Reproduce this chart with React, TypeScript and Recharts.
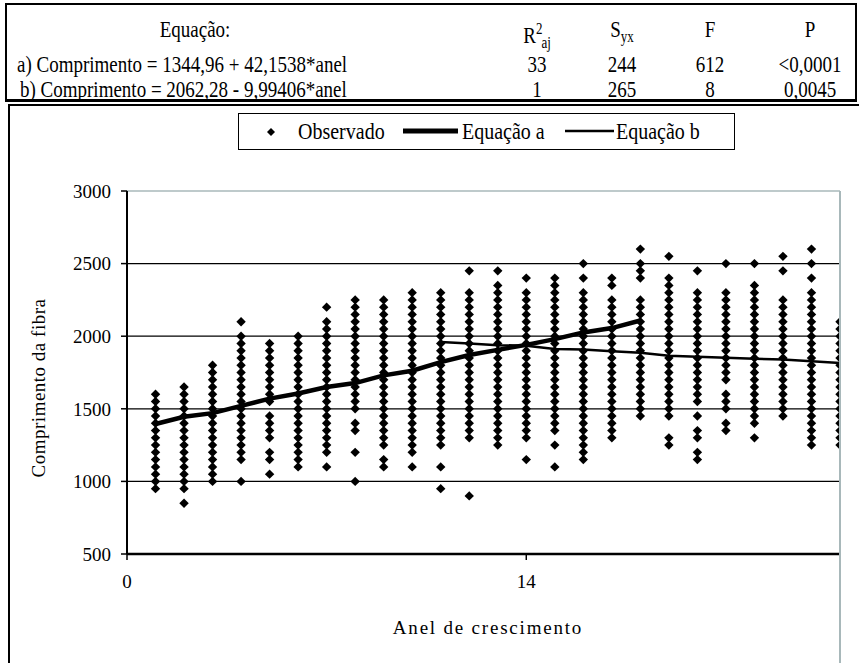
import React from "react";
import {
  ComposedChart,
  Scatter,
  Line,
  XAxis,
  YAxis,
  ReferenceLine,
} from "recharts";

const rings = [1, 2, 3, 4, 5, 6, 7, 8, 9, 10, 11, 12, 13, 14, 15, 16, 17, 18, 19, 20, 21, 22, 23, 24, 25];

// fibre length read per ring (each diamond of the stack)
const observed: number[][] = [
  [950, 1000, 1050, 1100, 1150, 1200, 1250, 1300, 1350, 1400, 1450, 1500, 1550, 1600],
  [850, 950, 1000, 1050, 1100, 1150, 1200, 1250, 1300, 1350, 1400, 1450, 1500, 1550, 1600, 1650],
  [1000, 1050, 1100, 1150, 1200, 1250, 1300, 1350, 1400, 1450, 1500, 1550, 1600, 1650, 1700, 1750, 1800],
  [1000, 1150, 1200, 1250, 1300, 1350, 1400, 1450, 1500, 1550, 1600, 1650, 1700, 1750, 1800, 1850, 1900, 1950, 2000, 2100],
  [1050, 1150, 1200, 1300, 1350, 1400, 1450, 1550, 1600, 1650, 1700, 1750, 1800, 1850, 1900, 1950],
  [1100, 1150, 1200, 1250, 1300, 1350, 1400, 1450, 1500, 1550, 1600, 1650, 1700, 1750, 1800, 1850, 1900, 1950, 2000],
  [1100, 1200, 1250, 1300, 1350, 1400, 1450, 1500, 1550, 1600, 1650, 1700, 1750, 1800, 1850, 1900, 1950, 2000, 2050, 2100, 2200],
  [1000, 1200, 1350, 1400, 1500, 1550, 1600, 1650, 1700, 1750, 1800, 1850, 1900, 1950, 2000, 2050, 2100, 2150, 2200, 2250],
  [1100, 1150, 1250, 1300, 1350, 1400, 1450, 1500, 1550, 1600, 1650, 1700, 1750, 1800, 1850, 1900, 1950, 2000, 2050, 2100, 2150, 2200, 2250],
  [1100, 1200, 1250, 1300, 1350, 1400, 1450, 1500, 1550, 1600, 1650, 1700, 1750, 1800, 1850, 1900, 1950, 2000, 2050, 2100, 2150, 2200, 2250, 2300],
  [950, 1100, 1250, 1300, 1350, 1400, 1450, 1500, 1550, 1600, 1650, 1700, 1750, 1800, 1850, 1900, 1950, 2000, 2050, 2100, 2150, 2200, 2250, 2300],
  [900, 1300, 1350, 1400, 1450, 1500, 1550, 1600, 1650, 1700, 1750, 1800, 1850, 1900, 1950, 2000, 2050, 2100, 2150, 2200, 2250, 2300, 2450],
  [1250, 1300, 1350, 1400, 1450, 1500, 1550, 1600, 1650, 1700, 1750, 1800, 1850, 1900, 1950, 2000, 2050, 2100, 2150, 2200, 2250, 2300, 2350, 2450],
  [1150, 1300, 1350, 1400, 1450, 1500, 1550, 1600, 1650, 1700, 1750, 1800, 1850, 1900, 1950, 2000, 2050, 2100, 2150, 2200, 2250, 2300, 2400],
  [1100, 1250, 1350, 1400, 1450, 1500, 1550, 1600, 1650, 1700, 1750, 1800, 1850, 1900, 1950, 2000, 2050, 2100, 2150, 2200, 2250, 2300, 2350, 2400],
  [1150, 1200, 1250, 1300, 1350, 1400, 1450, 1500, 1550, 1600, 1650, 1700, 1750, 1800, 1850, 1900, 1950, 2000, 2050, 2100, 2150, 2200, 2250, 2300, 2400, 2500],
  [1300, 1350, 1400, 1450, 1500, 1550, 1600, 1650, 1700, 1750, 1800, 1850, 1900, 1950, 2000, 2050, 2100, 2150, 2200, 2250, 2350, 2400],
  [1450, 1500, 1550, 1600, 1650, 1700, 1750, 1800, 1850, 1900, 1950, 2000, 2050, 2100, 2150, 2200, 2250, 2400, 2450, 2500, 2600],
  [1250, 1300, 1450, 1500, 1550, 1600, 1650, 1700, 1750, 1800, 1850, 1900, 1950, 2000, 2050, 2100, 2150, 2200, 2250, 2300, 2350, 2400, 2550],
  [1150, 1200, 1300, 1350, 1450, 1550, 1600, 1650, 1700, 1750, 1800, 1850, 1900, 1950, 2000, 2050, 2100, 2150, 2200, 2250, 2300, 2450],
  [1350, 1400, 1500, 1550, 1600, 1700, 1750, 1800, 1850, 1900, 1950, 2000, 2050, 2100, 2150, 2200, 2250, 2300, 2500],
  [1300, 1400, 1450, 1500, 1550, 1600, 1650, 1700, 1750, 1800, 1850, 1900, 1950, 2000, 2050, 2100, 2150, 2200, 2250, 2300, 2350, 2500],
  [1450, 1500, 1550, 1600, 1650, 1700, 1750, 1800, 1850, 1900, 1950, 2000, 2050, 2100, 2150, 2200, 2250, 2450, 2550],
  [1250, 1300, 1350, 1400, 1450, 1500, 1550, 1600, 1650, 1700, 1750, 1800, 1850, 1900, 1950, 2000, 2050, 2100, 2150, 2200, 2250, 2300, 2400, 2500, 2600],
  [1250, 1300, 1350, 1400, 1450, 1500, 1550, 1600, 1650, 1700, 1750, 1800, 1850, 1900, 1950, 2000, 2050, 2100],
];

const eqARings = [1, 2, 3, 4, 5, 6, 7, 8, 9, 10, 11, 12, 13, 14, 15, 16, 17, 18];
const eqAValues = [1395, 1445, 1470, 1520, 1570, 1605, 1650, 1677, 1730, 1762, 1822, 1870, 1906, 1940, 1980, 2026, 2056, 2108];

const eqBRings = [11, 12, 13, 14, 15, 16, 17, 18, 19, 20, 21, 22, 23, 24, 25];
const eqBValues = [1960, 1950, 1938, 1935, 1912, 1908, 1897, 1886, 1865, 1858, 1851, 1845, 1840, 1828, 1815];

const xTicks = [0, 14];
const yTicks = [500, 1000, 1500, 2000, 2500, 3000];
const gridValues = [1000, 1500, 2000, 2500];

const seriesNames = ["Observado", "Equação a", "Equação b"];

const tableHeader = ["Equação:", "R", "S", "F", "P"];
const tableRows = [
  ["a) Comprimento = 1344,96 + 42,1538*anel", "33", "244", "612", "<0,0001"],
  ["b) Comprimento = 2062,28 - 9,99406*anel", "1", "265", "8", "0,0045"],
];

const observedData = rings.flatMap((x, i) => observed[i].map((y) => ({ x, y })));
const eqAData = eqARings.map((x, i) => ({ x, y: eqAValues[i] }));
const eqBData = eqBRings.map((x, i) => ({ x, y: eqBValues[i] }));

const FONT = "Liberation Serif, DejaVu Serif, Times New Roman, serif";
const PLOT_BORDER = "#a8b8ba";

const Diamond = (props: any) => {
  const { cx, cy, r = 4.7 } = props;
  if (cx == null || cy == null) return null;
  return <path d={`M${cx},${cy - r}L${cx + r},${cy}L${cx},${cy + r}L${cx - r},${cy}Z`} fill="#000" />;
};

const colCenters = [0, 535, 620, 708, 808];

function StatsTable() {
  const cell = (text: React.ReactNode, cx: number, cy: number, key: string, left?: number) => (
    <div
      key={key}
      style={{
        position: "absolute",
        top: cy - 13,
        height: 26,
        lineHeight: "26px",
        whiteSpace: "nowrap",
        transform: "scaleY(1.25)",
        ...(left != null
          ? { left }
          : { left: cx - 80, width: 160, textAlign: "center" as const }),
      }}
    >
      {text}
    </div>
  );
  const rowsY = [27, 62, 87];
  const sm = { fontSize: 13 };
  return (
    <div
      style={{
        position: "absolute",
        left: 5,
        top: 3,
        width: 848,
        height: 94,
        borderTop: "2px solid #000",
        borderLeft: "2px solid #000",
        borderRight: "2px solid #000",
        borderBottom: "3px solid #000",
        fontSize: 19,
      }}
    >
      {cell(tableHeader[0], 188, rowsY[0] - 3, "h0")}
      {cell(
        <span>
          {tableHeader[1]}
          <sup style={{ ...sm, verticalAlign: 7 }}>2</sup>
          <sub style={{ ...sm, verticalAlign: -4, marginLeft: -1 }}>aj</sub>
        </span>,
        colCenters[1] - 5,
        rowsY[0] - 3,
        "h1"
      )}
      {cell(
        <span>
          {tableHeader[2]}
          <sub style={{ ...sm, verticalAlign: -4 }}>yx</sub>
        </span>,
        colCenters[2] - 5,
        rowsY[0] - 3,
        "h2"
      )}
      {cell(tableHeader[3], colCenters[3] - 5, rowsY[0] - 3, "h3")}
      {cell(tableHeader[4], colCenters[4] - 5, rowsY[0] - 3, "h4")}
      {tableRows.map((row, r) =>
        row.map((t, c) =>
          c === 0
            ? cell(t, 0, rowsY[r + 1] - 3, `r${r}c${c}`, r === 0 ? 10 : 13)
            : cell(t, colCenters[c] - 5, rowsY[r + 1] - 3, `r${r}c${c}`)
        )
      )}
    </div>
  );
}

function LegendBox() {
  const label = (text: string, left: number) => (
    <span
      style={{
        position: "absolute",
        left,
        top: 5,
        lineHeight: "24px",
        transform: "scaleY(1.15)",
        whiteSpace: "nowrap",
      }}
    >
      {text}
    </span>
  );
  return (
    <div
      style={{
        position: "absolute",
        left: 238,
        top: 113,
        width: 495,
        height: 35,
        border: "1.5px solid #000",
        fontSize: 20,
      }}
    >
      <svg width={495} height={35} style={{ position: "absolute", left: 0, top: 0 }}>
        <Diamond cx={32} cy={18} r={4} />
        <line x1={164} x2={219} y1={17} y2={17} stroke="#000" strokeWidth={5} />
        <line x1={326} x2={375} y1={17} y2={17} stroke="#000" strokeWidth={2.5} />
      </svg>
      {label(seriesNames[0], 59)}
      {label(seriesNames[1], 223)}
      {label(seriesNames[2], 377)}
    </div>
  );
}

export default function App() {
  const tick = { fontSize: 19, fill: "#000", fontFamily: FONT };
  return (
    <div
      style={{
        position: "absolute",
        left: 0,
        top: 0,
        width: 859,
        height: 663,
        overflow: "hidden",
        background: "#fff",
        fontFamily: FONT,
        color: "#000",
      }}
    >
      <StatsTable />
      {/* chart frame, runs off the right and bottom edges */}
      <div
        style={{
          position: "absolute",
          left: 8,
          top: 104,
          width: 900,
          height: 700,
          borderTop: "2px solid #000",
          borderLeft: "2px solid #000",
        }}
      />
      <div style={{ position: "absolute", left: 0, top: 0 }}>
        <ComposedChart
          width={859}
          height={663}
          margin={{ top: 191, right: 19, bottom: 79, left: 0 }}
        >
          {gridValues.map((v) => (
            <ReferenceLine key={v} y={v} stroke="#000" strokeWidth={1.3} />
          ))}
          <ReferenceLine y={3000} stroke={PLOT_BORDER} strokeWidth={1.5} />
          <XAxis
            type="number"
            dataKey="x"
            domain={[0, 25]}
            ticks={xTicks}
            allowDataOverflow
            height={30}
            tick={tick}
            tickSize={6}
            tickMargin={15}
            axisLine={{ stroke: "#000", strokeWidth: 2.5 }}
            tickLine={{ stroke: "#000", strokeWidth: 1.5 }}
          />
          <YAxis
            type="number"
            dataKey="y"
            domain={[500, 3000]}
            ticks={yTicks}
            width={127}
            tick={tick}
            tickSize={6}
            tickMargin={10}
            axisLine={{ stroke: "#000", strokeWidth: 2 }}
            tickLine={{ stroke: "#000", strokeWidth: 1.5 }}
          />
          <Scatter
            name={seriesNames[0]}
            data={observedData}
            shape={(p: any) => <Diamond cx={p.cx} cy={p.cy} />}
            isAnimationActive={false}
          />
          <Line
            name={seriesNames[1]}
            data={eqAData}
            dataKey="y"
            type="linear"
            stroke="#000"
            strokeWidth={4.5}
            dot={false}
            isAnimationActive={false}
          />
          <Line
            name={seriesNames[2]}
            data={eqBData}
            dataKey="y"
            type="linear"
            stroke="#000"
            strokeWidth={2.5}
            dot={false}
            isAnimationActive={false}
          />
        </ComposedChart>
      </div>
      {/* plot area right border continues below the axis */}
      <div
        style={{
          position: "absolute",
          left: 839,
          top: 191,
          width: 1.5,
          height: 480,
          background: PLOT_BORDER,
        }}
      />
      <LegendBox />
      <div
        style={{
          position: "absolute",
          left: 373,
          top: 617,
          width: 230,
          textAlign: "center",
          fontSize: 19,
          letterSpacing: 1.8,
        }}
      >
        Anel de crescimento
      </div>
      <div
        style={{
          position: "absolute",
          left: 39,
          top: 388,
          transform: "translate(-50%, -50%) rotate(-90deg)",
          whiteSpace: "nowrap",
          fontSize: 19,
          letterSpacing: 0.5,
        }}
      >
        Comprimento da fibra
      </div>
    </div>
  );
}
